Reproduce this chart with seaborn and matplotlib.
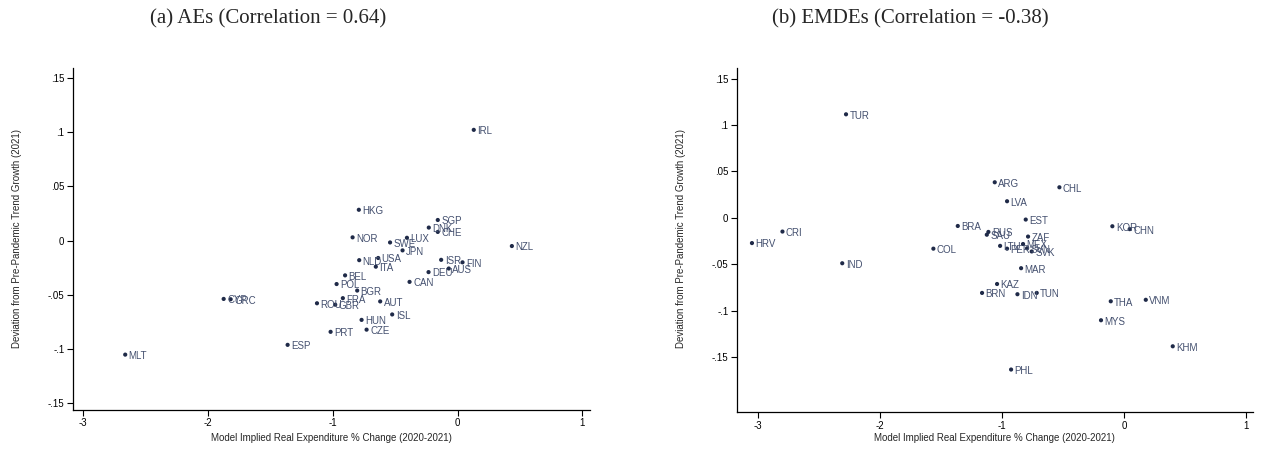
import matplotlib
matplotlib.use("Agg")
import matplotlib.pyplot as plt
import matplotlib.ticker as mticker
import pandas as pd
import seaborn as sns

# AEs panel
ae_codes = ["IRL", "NZL", "HKG", "SGP", "DNK", "CHE", "NOR", "LUX", "SWE", "JPN",
            "USA", "NLD", "ITA", "ISR", "FIN", "AUS", "DEU", "CAN", "BEL", "POL",
            "BGR", "FRA", "AUT", "ROU", "GBR", "ISL", "HUN", "CZE", "PRT", "ESP",
            "MLT", "CYP", "GRC"]
ae_x = [0.13, 0.435, -0.79, -0.158, -0.23, -0.158, -0.84, -0.405, -0.54, -0.44,
        -0.635, -0.787, -0.654, -0.131, 0.04, -0.07, -0.232, -0.384, -0.90, -0.968,
        -0.803, -0.918, -0.619, -1.125, -0.979, -0.523, -0.768, -0.728, -1.016, -1.36,
        -2.66, -1.872, -1.816]
ae_y = [0.102, -0.005, 0.0284, 0.019, 0.012, 0.008, 0.003, 0.0026, -0.0017, -0.009,
        -0.016, -0.018, -0.024, -0.0177, -0.020, -0.0257, -0.029, -0.038, -0.032, -0.040,
        -0.046, -0.053, -0.056, -0.0577, -0.059, -0.068, -0.073, -0.082, -0.084, -0.096,
        -0.105, -0.0537, -0.054]

# EMDEs panel
em_codes = ["TUR", "CRI", "HRV", "IND", "COL", "ARG", "CHL", "LVA", "EST", "BRA",
            "RUS", "SAU", "ZAF", "MEX", "LTU", "PER", "SVN", "SVK", "KOR", "CHN",
            "MAR", "KAZ", "BRN", "IDN", "TUN", "THA", "VNM", "MYS", "KHM", "PHL"]
em_x = [-2.279, -2.80, -3.05, -2.31, -1.563, -1.06, -0.53, -0.959, -0.806, -1.363,
        -1.112, -1.125, -0.787, -0.828, -1.016, -0.959, -0.795, -0.757, -0.096, 0.046,
        -0.844, -1.041, -1.164, -0.874, -0.716, -0.109, 0.178, -0.189, 0.399, -0.926]
em_y = [0.1115, -0.0146, -0.027, -0.0487, -0.033, 0.0384, 0.033, 0.018, -0.0017, -0.0086,
        -0.015, -0.018, -0.020, -0.028, -0.030, -0.033, -0.0326, -0.036, -0.0089, -0.012,
        -0.054, -0.071, -0.0806, -0.082, -0.0806, -0.0896, -0.088, -0.110, -0.138, -0.163]

titles = ["(a) AEs (Correlation = 0.64)", "(b) EMDEs (Correlation = -0.38)"]
xlabel = "Model Implied Real Expenditure % Change (2020-2021)"
ylabel = "Deviation from Pre-Pandemic Trend Growth (2021)"
xticks = [-3, -2, -1, 0, 1]
yticks = [-0.15, -0.1, -0.05, 0, 0.05, 0.1, 0.15]

sns.set_style("white")
plt.rcParams["font.family"] = ["Liberation Sans Narrow", "Liberation Sans", "DejaVu Sans"]

dot_color = "#1f2a48"
lab_color = "#44506f"


def stata_fmt(v, pos):
    if abs(v) < 1e-9:
        return "0"
    s = f"{v:g}"
    return s.replace("0.", ".")


def panel(ax, codes, xs, ys, xlim, ylim, pad):
    df = pd.DataFrame({"code": codes, "x": xs, "y": ys})
    sns.scatterplot(data=df, x="x", y="y", ax=ax, color=dot_color, s=9,
                    edgecolor="none", linewidth=0)
    for c, x, y in zip(df["code"], df["x"], df["y"]):
        ax.annotate(c, (x, y), xytext=(2.5, -1), textcoords="offset points",
                    ha="left", va="center", fontsize=7, color=lab_color)
    ax.set_xlim(*xlim)
    ax.set_ylim(*ylim)
    ax.set_xticks(xticks)
    ax.set_yticks(yticks)
    ax.xaxis.set_major_formatter(mticker.FuncFormatter(stata_fmt))
    ax.yaxis.set_major_formatter(mticker.FuncFormatter(stata_fmt))
    for side in ["top", "right"]:
        ax.spines[side].set_visible(False)
    for side in ["left", "bottom"]:
        ax.spines[side].set_color("black")
        ax.spines[side].set_linewidth(0.9)
    ax.tick_params(axis="both", direction="out", length=4, width=0.8,
                   labelsize=7, colors="black", left=True, bottom=True, pad=2)
    ax.set_xlabel(xlabel, fontsize=7, labelpad=pad)
    ax.set_ylabel("")


fig = plt.figure(figsize=(12.63, 4.51), dpi=100)
ax1 = fig.add_axes([0.0576, 0.0909, 0.4095, 0.7584])
ax2 = fig.add_axes([0.5833, 0.0858, 0.4088, 0.7628])

panel(ax1, ae_codes, ae_x, ae_y, (-3.08, 1.06), (-0.156, 0.159), 3.5)
panel(ax2, em_codes, em_x, em_y, (-3.175, 1.057), (-0.209, 0.161), 1.5)

fig.text(17 / 1263, 1 - 238 / 451, ylabel, rotation=90, ha="center", va="center", fontsize=7)
fig.text(681 / 1263, 1 - 238 / 451, ylabel, rotation=90, ha="center", va="center", fontsize=7)

fig.text(268 / 1263, 1 - 19 / 451, titles[0], ha="center", va="center",
         fontsize=15, family=["Liberation Serif", "DejaVu Serif"])
fig.text(910 / 1263, 1 - 19 / 451, titles[1], ha="center", va="center",
         fontsize=15, family=["Liberation Serif", "DejaVu Serif"])

fig.savefig("out.png", dpi=100)
